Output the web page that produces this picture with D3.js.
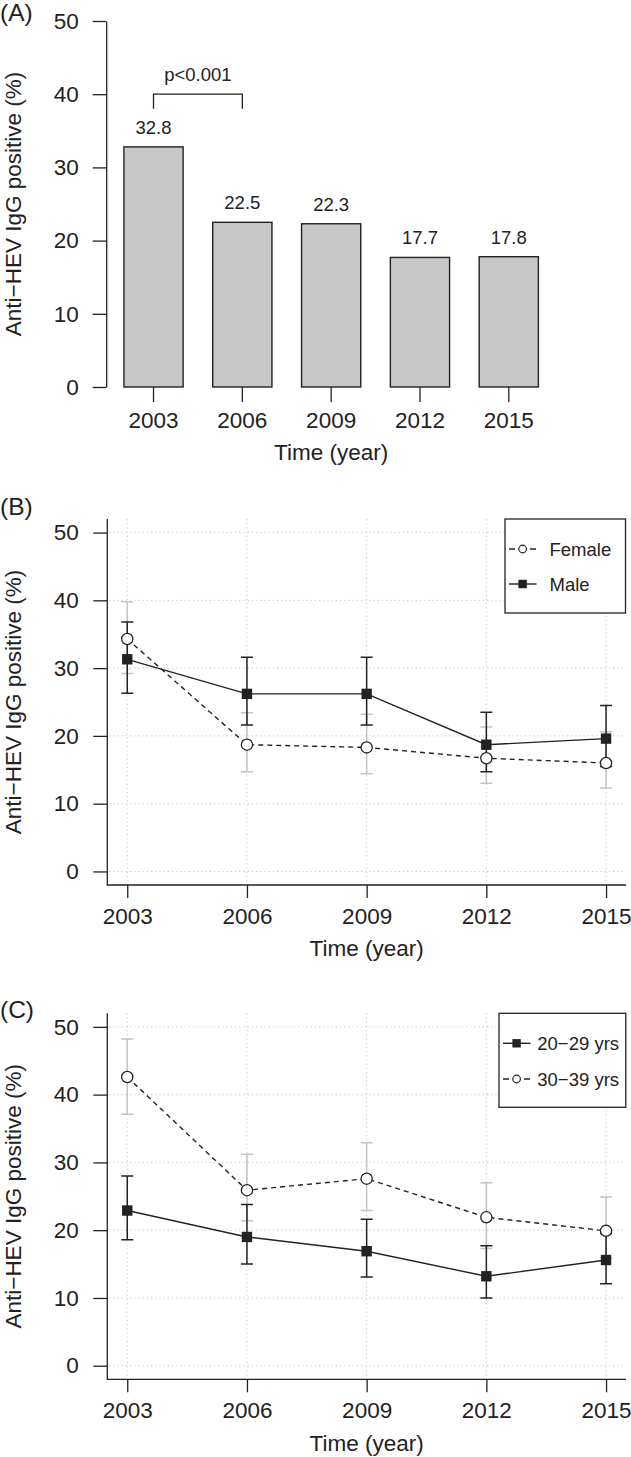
<!DOCTYPE html>
<html>
<head>
<meta charset="utf-8">
<script src="https://cdn.jsdelivr.net/npm/d3@7"></script>
<style>
  body { margin: 0; background: #fff; }
  svg { display: block; }
</style>
</head>
<body>
<script>
// data
var years = [2003, 2006, 2009, 2012, 2015];
var yTicks = [0, 10, 20, 30, 40, 50];
var overallPos = [32.8, 22.5, 22.3, 17.7, 17.8];

var femalePos  = [34.3, 18.7, 18.3, 16.7, 16.0];
var femaleLow  = [29.2, 14.7, 14.4, 13.0, 12.3];
var femaleHigh = [39.8, 23.4, 23.2, 21.3, 20.6];
var malePos    = [31.3, 26.2, 26.2, 18.7, 19.6];
var maleLow    = [26.3, 21.6, 21.6, 14.7, 15.5];
var maleHigh   = [36.8, 31.6, 31.6, 23.5, 24.5];

var age2029Pos  = [22.9, 19.0, 16.9, 13.2, 15.6];
var age2029Low  = [18.6, 15.0, 13.1, 10.0, 12.1];
var age2029High = [28.0, 23.8, 21.6, 17.7, 19.5];
var age3039Pos  = [42.6, 25.9, 27.6, 21.9, 19.9];
var age3039Low  = [37.1, 21.4, 22.9, 17.3, 15.9];
var age3039High = [48.2, 31.2, 32.9, 27.0, 24.9];

var yTitle = "Anti\u2212HEV IgG positive (%)";
var xTitle = "Time (year)";
var pLabel = "p<0.001";

var FONT = "'Liberation Sans', Arial, Helvetica, sans-serif";
var INK = "#222";
var GREY = "#c4c4c4";

var svg = d3.select("body").append("svg")
    .attr("width", 631)
    .attr("height", 1457)
    .style("font-family", FONT);

function txt(g, x, y, s, size, anchor) {
  return g.append("text")
    .attr("x", x)
    .attr("y", y)
    .attr("text-anchor", anchor || "start")
    .attr("font-size", size)
    .attr("fill", INK)
    .text(s);
}

function yAxisTitle(g, x, yc) {
  g.append("text")
    .attr("transform", "translate(" + x + "," + yc + ") rotate(-90)")
    .attr("text-anchor", "middle")
    .attr("font-size", 22.5)
    .attr("fill", INK)
    .text(yTitle);
}

function styleAxis(a) {
  a.attr("font-family", FONT).attr("font-size", 22.5);
  a.selectAll("line").attr("stroke", INK).attr("stroke-width", 1.3);
  a.selectAll("path").attr("stroke", INK).attr("stroke-width", 1.3);
  a.selectAll("text").attr("fill", INK);
}

// ---------- panel A: bars ----------
var gA = svg.append("g");

var xA = d3.scaleBand()
    .domain(years)
    .range([109.1, 553.2])
    .paddingInner(1 / 3)
    .paddingOuter(1 / 6);
var yA = d3.scaleLinear().domain([0, 50]).range([387, 21]);

gA.selectAll(".bar")
    .data(overallPos)
  .enter().append("rect")
    .attr("class", "bar")
    .attr("x", function(d, i) { return xA(years[i]); })
    .attr("y", function(d) { return yA(d); })
    .attr("width", xA.bandwidth())
    .attr("height", function(d) { return yA(0) - yA(d); })
    .attr("fill", "#c7c7c7")
    .attr("stroke", INK)
    .attr("stroke-width", 1.4);

overallPos.forEach(function(d, i) {
  txt(gA, xA(years[i]) + xA.bandwidth() / 2, yA(d) - 13, d.toFixed(1), 18.5, "middle");
});

// bracket 2003 vs 2006
var bx0 = xA(years[0]) + xA.bandwidth() / 2,
    bx1 = xA(years[1]) + xA.bandwidth() / 2;
gA.append("path")
    .attr("d", "M" + bx0 + "," + yA(38) + "V" + yA(40) + "H" + bx1 + "V" + yA(38))
    .attr("fill", "none")
    .attr("stroke", INK)
    .attr("stroke-width", 1.3);
txt(gA, (bx0 + bx1) / 2, yA(40) - 13, pLabel, 18.5, "middle");

var axA = gA.append("g")
    .attr("transform", "translate(106.2,0)")
    .call(d3.axisLeft(yA).tickValues(yTicks).tickSize(13.5).tickSizeOuter(0).tickPadding(14));
styleAxis(axA);

var axAb = gA.append("g")
    .attr("transform", "translate(0,387)")
    .call(d3.axisBottom(xA).tickSize(15).tickPadding(10));
axAb.select(".domain").remove();
styleAxis(axAb);

txt(gA, 331.2, 460, xTitle, 22.5, "middle");
yAxisTitle(gA, 21, 204);
txt(gA, 0, 21, "(A)", 24.5, "start");

// ---------- panels B and C: lines with CIs ----------
function linePanel(cfg) {
  var g = svg.append("g");
  var x = d3.scaleLinear().domain([2002.5, 2015.5]).range([107.3, 626]);
  var y = d3.scaleLinear().domain([-2, 52]).range([cfg.bottom, cfg.bottom - 366]);
  var top = cfg.bottom - 366;

  // dotted grid
  g.selectAll(".hg").data(yTicks).enter().append("line")
      .attr("x1", 109).attr("x2", 626)
      .attr("y1", function(d) { return y(d); })
      .attr("y2", function(d) { return y(d); })
      .attr("stroke", "#c8c8c8").attr("stroke-dasharray", "1.2,3");
  g.selectAll(".vg").data(years).enter().append("line")
      .attr("x1", function(d) { return x(d); })
      .attr("x2", function(d) { return x(d); })
      .attr("y1", top).attr("y2", cfg.bottom)
      .attr("stroke", "#c8c8c8").attr("stroke-dasharray", "1.2,3");

  var line = d3.line()
      .x(function(d, i) { return x(years[i]); })
      .y(function(d) { return y(d); });

  function bars(s, colour) {
    s.low.forEach(function(lo, i) {
      var cx = x(years[i]), hi = s.high[i];
      g.append("path")
        .attr("d", "M" + cx + "," + y(lo) + "V" + y(hi) +
                   "M" + (cx - 6) + "," + y(lo) + "H" + (cx + 6) +
                   "M" + (cx - 6) + "," + y(hi) + "H" + (cx + 6))
        .attr("fill", "none")
        .attr("stroke", colour)
        .attr("stroke-width", 1.5);
    });
  }

  var open = cfg.series.filter(function(s) { return s.open; })[0];
  var filled = cfg.series.filter(function(s) { return !s.open; })[0];

  bars(open, GREY);
  bars(filled, INK);

  g.append("path").datum(open.pos)
      .attr("d", line).attr("fill", "none")
      .attr("stroke", INK).attr("stroke-width", 1.4)
      .attr("stroke-dasharray", "5,4");
  g.append("path").datum(filled.pos)
      .attr("d", line).attr("fill", "none")
      .attr("stroke", INK).attr("stroke-width", 1.4);

  g.selectAll(".sq").data(filled.pos).enter().append("rect")
      .attr("x", function(d, i) { return x(years[i]) - 5.2; })
      .attr("y", function(d) { return y(d) - 5.2; })
      .attr("width", 10.4).attr("height", 10.4)
      .attr("fill", INK);
  g.selectAll(".ci").data(open.pos).enter().append("circle")
      .attr("cx", function(d, i) { return x(years[i]); })
      .attr("cy", function(d) { return y(d); })
      .attr("r", 5.6)
      .attr("fill", "#fff").attr("stroke", INK).attr("stroke-width", 1.3);

  // axes
  var ay = g.append("g")
      .attr("transform", "translate(107.3,0)")
      .call(d3.axisLeft(y).tickValues(yTicks).tickSize(14).tickPadding(14.5));
  ay.select(".domain").remove();
  styleAxis(ay);

  var ax = g.append("g")
      .attr("transform", "translate(0," + cfg.bottom + ")")
      .call(d3.axisBottom(x).tickValues(years).tickFormat(d3.format("d")).tickSize(13).tickPadding(10));
  ax.select(".domain").remove();
  styleAxis(ax);

  // L-shaped box
  g.append("path")
      .attr("d", "M107.3," + top + "V" + cfg.bottom + "H626")
      .attr("fill", "none").attr("stroke", INK).attr("stroke-width", 1.3);

  // legend
  var L = cfg.legend;
  g.append("rect")
      .attr("x", L.x).attr("y", top).attr("width", L.w).attr("height", L.h)
      .attr("fill", "#fff").attr("stroke", INK).attr("stroke-width", 1.3);
  cfg.series.forEach(function(s, k) {
    var ly = top + L.first + k * L.gap;
    var lx0 = L.x + 4, lx1 = L.x + 31.5, mx = L.x + 17.6;
    var ln = g.append("line")
        .attr("x1", lx0).attr("x2", lx1).attr("y1", ly).attr("y2", ly)
        .attr("stroke", INK).attr("stroke-width", 1.4);
    if (s.open) {
      ln.attr("stroke-dasharray", "6,4.5");
      g.append("circle").attr("cx", mx).attr("cy", ly).attr("r", 3.8)
          .attr("fill", "#fff").attr("stroke", INK).attr("stroke-width", 1.2);
    } else {
      g.append("rect").attr("x", mx - 4.2).attr("y", ly - 4.2)
          .attr("width", 8.4).attr("height", 8.4).attr("fill", INK);
    }
    txt(g, L.x + L.tx, ly + 6.7, s.name, 18.5, "start");
  });

  txt(g, 366.6, cfg.bottom + 71.4, xTitle, 22.5, "middle");
  yAxisTitle(g, 21, (top + cfg.bottom) / 2);
  txt(g, 0, cfg.letterY, cfg.letter, 24.5, "start");
}

linePanel({
  bottom: 885,
  letter: "(B)",
  letterY: 515,
  legend: { x: 505, w: 120.5, h: 94, first: 30, gap: 35, tx: 44.5 },
  series: [
    { name: "Female", open: true, pos: femalePos, low: femaleLow, high: femaleHigh },
    { name: "Male", open: false, pos: malePos, low: maleLow, high: maleHigh }
  ]
});

linePanel({
  bottom: 1379.3,
  letter: "(C)",
  letterY: 1018,
  legend: { x: 499, w: 126.8, h: 94, first: 30, gap: 35.7, tx: 38.3 },
  series: [
    { name: "20\u221229 yrs", open: false, pos: age2029Pos, low: age2029Low, high: age2029High },
    { name: "30\u221239 yrs", open: true, pos: age3039Pos, low: age3039Low, high: age3039High }
  ]
});
</script>
</body>
</html>
